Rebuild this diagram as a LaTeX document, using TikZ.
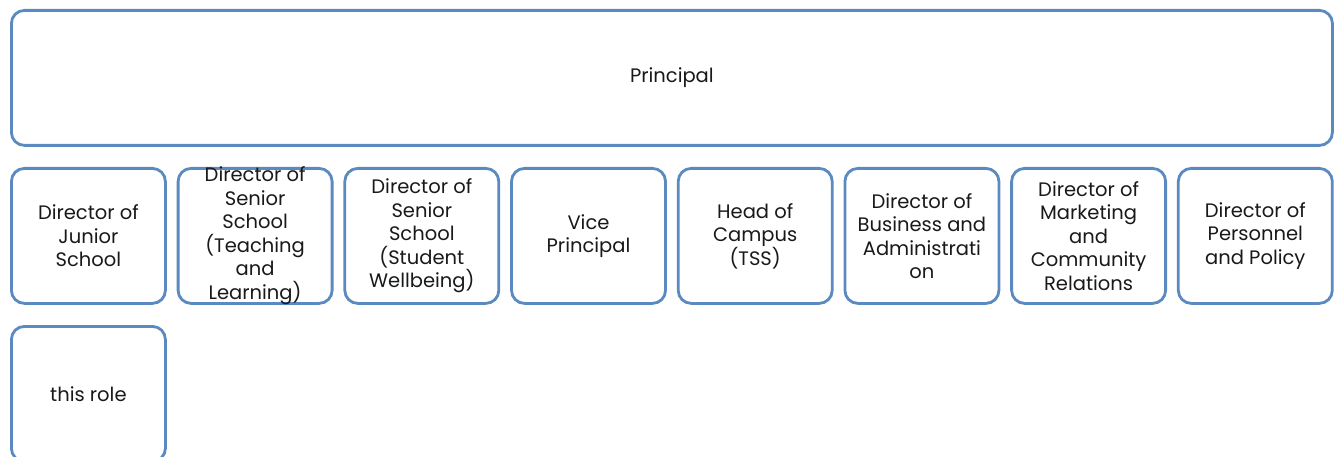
\documentclass[tikz,border=0pt]{standalone}
\usepackage{fontspec}
\setmainfont{Poppins}
\begin{document}
\begin{tikzpicture}[x=1pt,y=-1pt,
  role/.style={draw=boxblue,line width=2.8pt,rounded corners=13pt,fill=white,
    minimum width=154pt,minimum height=135pt,inner sep=0pt,anchor=north west},
  label/.style={align=center,font=\fontsize{19.5}{23.5}\selectfont,text=black!90}]
\definecolor{boxblue}{HTML}{5A8AC0}
\useasboundingbox (0,0) rectangle (1337,457);
\clip (0,0) rectangle (1337,457);
% head of the chart
\node[role,minimum width=1321pt] (principal) at (10,9) {};
\node[label] at (principal.center) {Principal};
% second row
\foreach \i/\name/\txt in {
  0/djs/{Director of\\Junior\\School},
  1/dsstl/{Director of\\Senior\\School\\(Teaching\\and\\Learning)},
  2/dsssw/{Director of\\Senior\\School\\(Student\\Wellbeing)},
  3/vp/{Vice\\Principal},
  4/hoc/{Head of\\Campus\\(TSS)},
  5/dba/{Director of\\Business and\\Administrati\\on},
  6/dmcr/{Director of\\Marketing\\and\\Community\\Relations},
  7/dpp/{Director of\\Personnel\\and Policy}} {
  \node[role] (\name) at ({10+166.7*\i},167) {};
  \node[label] at (\name.center) {\txt};
}
% third row
\node[role] (role) at (10,325) {};
\node[label] at (role.center) {this role};
\end{tikzpicture}
\end{document}
